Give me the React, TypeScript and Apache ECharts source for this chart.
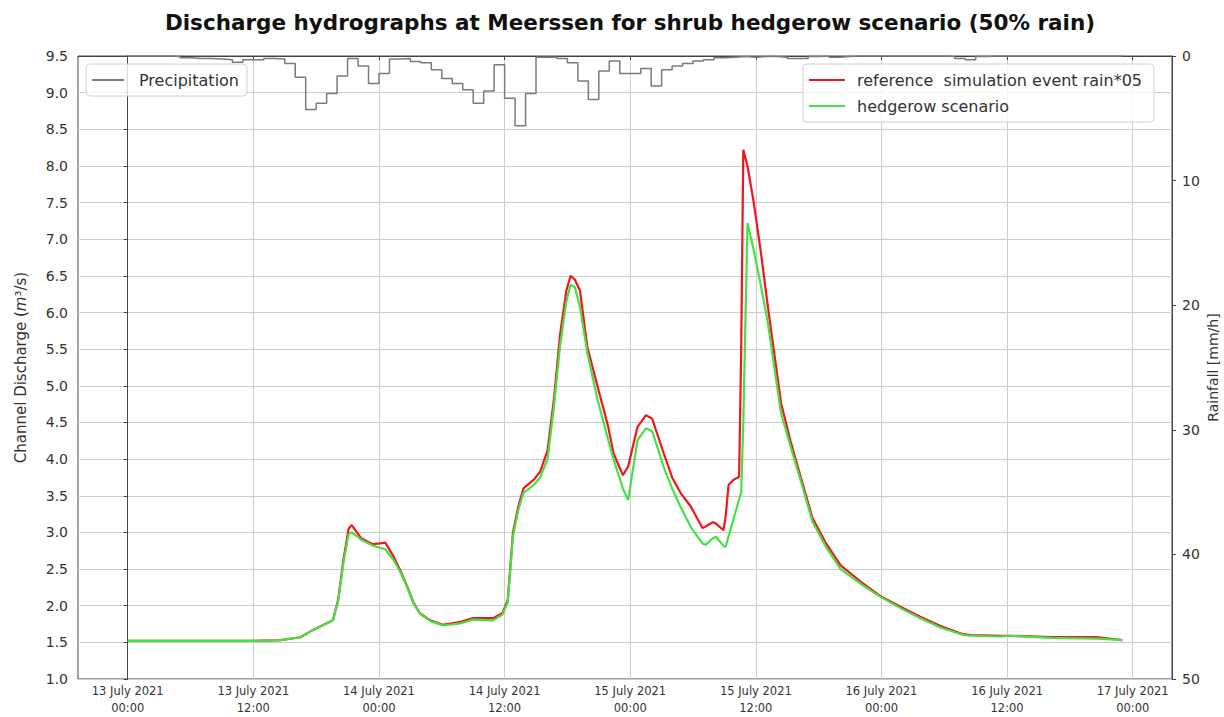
import { useEffect, useRef } from 'react';
import * as echarts from 'echarts';

// time in hours since 13 July 2021 00:00
const hours = [
  0, 6, 12, 14.6, 16.5, 17.7, 19.6, 20.1, 20.6, 21.1, 21.4, 22.3, 23.4, 24.1, 24.6,
  25.4, 26.0, 26.7, 27.3, 27.9, 28.9, 30.1, 31.8, 33.0, 34.9, 35.8, 36.3, 36.8, 37.3,
  37.8, 38.8, 39.4, 40.1, 40.7, 41.3, 41.9, 42.3, 42.7, 43.2, 43.9, 44.9, 45.9, 46.4,
  47.3, 47.8, 48.7, 49.5, 50.1, 51.2, 52.0, 52.8, 53.8, 54.9, 55.2, 55.9, 56.2, 56.9,
  57.1, 57.4, 57.9, 58.4, 58.6, 58.8, 59.2, 59.8, 60.5, 61.1, 62.4, 63.3, 64.3, 65.4,
  66.7, 68.1, 70.0, 71.9, 73.9, 75.7, 77.7, 79.6, 80.5, 83.4, 84.3, 88.2, 92.7, 95.0,
];

const reference = [
  1.52, 1.52, 1.52, 1.53, 1.57, 1.67, 1.8, 2.08, 2.62, 3.05, 3.1, 2.92, 2.84, 2.85, 2.86,
  2.67, 2.49, 2.26, 2.04, 1.9, 1.8, 1.74, 1.78, 1.83, 1.83, 1.9, 2.08, 3.0, 3.35,
  3.6, 3.72, 3.83, 4.12, 4.8, 5.7, 6.3, 6.5, 6.45, 6.3, 5.53, 4.98, 4.44, 4.08,
  3.78, 3.9, 4.44, 4.6, 4.55, 4.08, 3.75, 3.54, 3.35, 3.06, 3.08, 3.14, 3.12, 3.03,
  3.2, 3.65, 3.72, 3.76, 5.5, 8.22, 8.0, 7.5, 6.8, 6.13, 4.77, 4.25, 3.75, 3.2,
  2.85, 2.55, 2.33, 2.13, 1.98, 1.85, 1.72, 1.62, 1.6, 1.59, 1.59, 1.57, 1.57, 1.53,
];

const hedgerow = [
  1.52, 1.52, 1.52, 1.53, 1.57, 1.67, 1.8, 2.06, 2.58, 2.98, 3.0, 2.9, 2.82, 2.79, 2.77,
  2.62, 2.47, 2.25, 2.03, 1.89, 1.79, 1.73, 1.76, 1.81, 1.8, 1.88, 2.05, 2.95, 3.3,
  3.54, 3.65, 3.75, 4.0, 4.7, 5.55, 6.15, 6.38, 6.35, 6.08, 5.45, 4.8, 4.26, 4.0,
  3.6, 3.44, 4.26, 4.42, 4.38, 3.89, 3.6, 3.35, 3.07, 2.85, 2.83, 2.92, 2.94, 2.82,
  2.8, 2.95, 3.2, 3.45, 3.55, 4.5, 7.22, 6.85, 6.35, 5.9, 4.63, 4.18, 3.7, 3.15,
  2.8, 2.5, 2.3, 2.12, 1.96, 1.83, 1.7, 1.61, 1.59, 1.58, 1.59, 1.56, 1.55, 1.53,
];

// hourly rainfall (mm/h), hour 0 = 13 July 2021 00:00
const precipitation = [
  0, 0, 0, 0, 0.05, 0.15, 0.2, 0.2, 0.25, 0.3, 0.5, 0.3, 0.3, 0.2, 0.25,
  0.6, 1.7, 4.3, 3.8, 3.0, 1.6, 0.2, 0.8, 2.2, 1.4, 0.25, 0.2, 0.45, 0.55,
  1.1, 1.8, 2.2, 2.7, 3.8, 2.8, 0.7, 3.4, 5.6, 3.0, 0.1, 0.1, 0.2, 0.55,
  2.0, 3.5, 1.2, 0.4, 1.4, 1.4, 1.0, 2.4, 1.1, 0.8, 0.6, 0.4, 0.3, 0.15,
  0.1, 0.05, 0.1, 0.05, 0.05, 0.1, 0.2, 0.2, 0.05, 0, 0.1, 0.05, 0, 0,
  0, 0, 0, 0, 0, 0, 0, 0.05, 0.2, 0.3, 0.05, 0, 0, 0, 0,
  0, 0, 0, 0, 0, 0, 0, 0, 0, 0,
];

const xTickHours = [0, 12, 24, 36, 48, 60, 72, 84, 96];
const xTickLabels = [
  '13 July 2021\n00:00', '13 July 2021\n12:00',
  '14 July 2021\n00:00', '14 July 2021\n12:00',
  '15 July 2021\n00:00', '15 July 2021\n12:00',
  '16 July 2021\n00:00', '16 July 2021\n12:00',
  '17 July 2021\n00:00',
];

const TEXT = '#333';
const GRIDC = '#cccccc';
const SPINE = '#444';
const FONT = 'DejaVu Sans';

export default function App() {
  const ref = useRef<HTMLDivElement>(null);
  useEffect(() => {
    if (!ref.current) return;
    const chart = echarts.init(ref.current, null, { renderer: 'svg' });
    const precipData = precipitation.map((v, k) => [k, v]);
    chart.setOption({
      animation: false,
      backgroundColor: '#fff',
      title: {
        text: 'Discharge hydrographs at Meerssen for shrub hedgerow scenario (50% rain)',
        left: 625,
        textAlign: 'center',
        top: 6,
        textStyle: { fontFamily: FONT, fontWeight: 'bold', fontSize: 21.5, color: '#111' },
      },
      grid: {
        left: 78, right: 52, top: 56, bottom: 38, show: true,
        borderColor: SPINE, borderWidth: 1, backgroundColor: 'transparent',
        outerBoundsMode: 'none', containLabel: false,
      },
      legend: [
        {
          data: ['Precipitation'],
          left: 86, top: 64,
          icon: 'rect',
          padding: [6.5, 8, 6.5, 6],
          itemWidth: 32, itemHeight: 2,
          backgroundColor: 'rgba(255,255,255,0.8)',
          borderColor: '#d0d0d0', borderWidth: 1, borderRadius: 4,
          textStyle: { fontFamily: FONT, fontSize: 16, lineHeight: 19, color: TEXT, padding: [0, 0, 0, 10] },
        },
        {
          data: ['reference  simulation event rain*05', 'hedgerow scenario'],
          left: 803, top: 64, orient: 'vertical',
          icon: 'rect',
          padding: [6.5, 12, 6.5, 6], itemGap: 7,
          itemWidth: 36, itemHeight: 2,
          backgroundColor: 'rgba(255,255,255,0.8)',
          borderColor: '#d0d0d0', borderWidth: 1, borderRadius: 4,
          textStyle: { fontFamily: FONT, fontSize: 16, lineHeight: 19, color: TEXT, padding: [0, 0, 0, 7] },
        },
      ],
      xAxis: {
        type: 'value', min: -4.75, max: 99.75,
        axisLine: { show: true, lineStyle: { color: SPINE } },
        axisTick: { show: true, customValues: xTickHours, length: 4, lineStyle: { color: SPINE } },
        axisLabel: {
          customValues: xTickHours,
          formatter: (v: number) => {
            const i = xTickHours.indexOf(Math.round(v));
            return i >= 0 ? xTickLabels[i] : '';
          },
          fontFamily: FONT, fontSize: 11.5, lineHeight: 17, color: TEXT, margin: 3,
        },
        splitLine: { show: true, lineStyle: { color: GRIDC, width: 1 } },
      },
      yAxis: [
        {
          type: 'value', min: 1, max: 9.5, interval: 0.5, position: 'left',
          axisLine: { show: true, lineStyle: { color: SPINE } },
          axisTick: { show: true, length: 4, lineStyle: { color: SPINE } },
          axisLabel: { formatter: (v: number) => v.toFixed(1), fontFamily: FONT, fontSize: 14, color: TEXT, margin: 10 },
          splitLine: { show: true, lineStyle: { color: GRIDC, width: 1 } },
          name: 'Channel Discharge ({i|m}³/s)',
          nameLocation: 'middle', nameGap: 50, nameRotate: 90,
          nameTextStyle: { fontFamily: FONT, fontSize: 15, color: TEXT, rich: { i: { fontFamily: FONT, fontSize: 15, fontStyle: 'italic', color: TEXT } } },
        },
        {
          type: 'value', min: 0, max: 50, interval: 10, position: 'right', inverse: true,
          axisLine: { show: true, lineStyle: { color: SPINE } },
          axisTick: { show: true, length: 4, lineStyle: { color: SPINE } },
          axisLabel: { fontFamily: FONT, fontSize: 14, color: TEXT, margin: 10 },
          splitLine: { show: false },
          name: 'Rainfall [mm/h]',
          nameLocation: 'middle', nameGap: 33, nameRotate: 90,
          nameMoveOverlap: false,
          nameTextStyle: { fontFamily: FONT, fontSize: 14, lineHeight: 16, color: TEXT },
        },
      ],
      series: [
        {
          name: 'Precipitation', type: 'line', yAxisIndex: 1, step: 'end',
          data: precipData, symbol: 'none', showSymbol: false,
          lineStyle: { color: '#7a7a7a', width: 1.5 }, itemStyle: { color: '#7a7a7a' },
          z: 3,
        },
        {
          name: 'reference  simulation event rain*05', type: 'line', yAxisIndex: 0,
          data: hours.map((h, i) => [h, reference[i]]), symbol: 'none', showSymbol: false,
          lineStyle: { color: '#f0161a', width: 2.2 }, itemStyle: { color: '#f0161a' },
          z: 4,
        },
        {
          name: 'hedgerow scenario', type: 'line', yAxisIndex: 0,
          data: hours.map((h, i) => [h, hedgerow[i]]), symbol: 'none', showSymbol: false,
          lineStyle: { color: '#45e045', width: 2.2 }, itemStyle: { color: '#45e045' },
          z: 5,
        },
      ],
    });
    return () => chart.dispose();
  }, []);
  return <div ref={ref} style={{ position: 'fixed', left: 0, top: 0, width: 1224, height: 717, background: '#fff' }} />;
}
